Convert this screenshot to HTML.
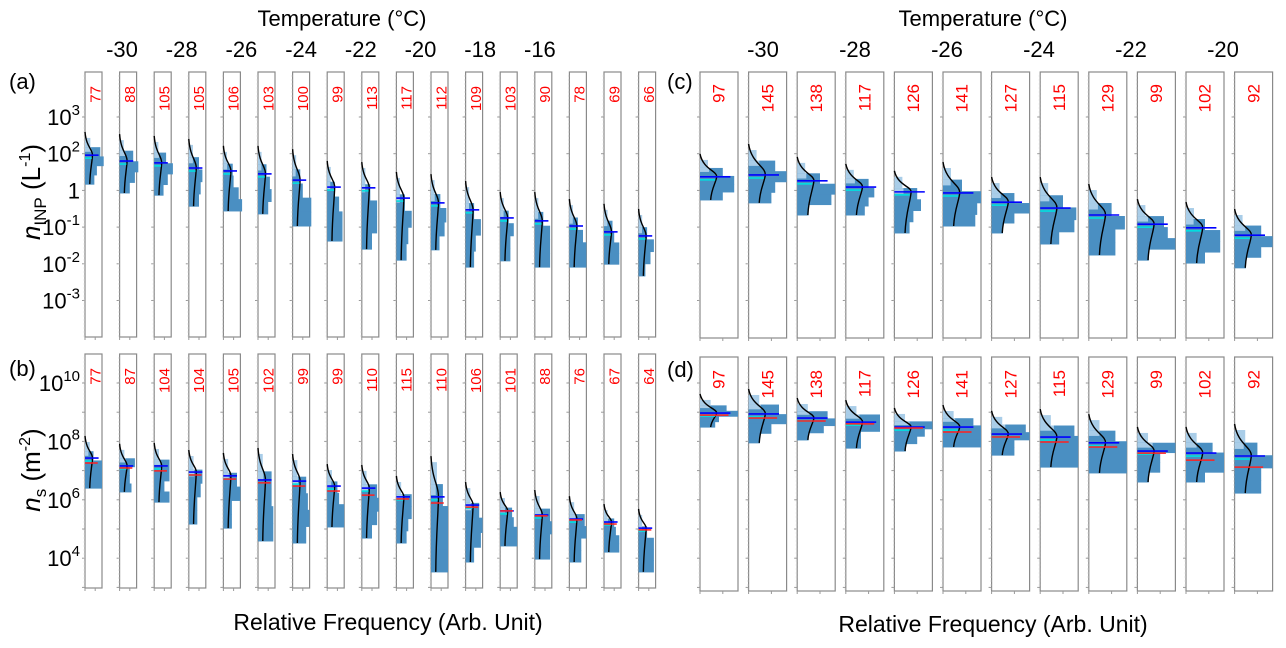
<!DOCTYPE html>
<html><head><meta charset="utf-8">
<style>
html,body{margin:0;padding:0;background:#fff;}
svg{display:block;font-family:"Liberation Sans",sans-serif;}
</style></head>
<body>
<svg id="fig" width="1286" height="648" viewBox="0 0 1286 648" xmlns="http://www.w3.org/2000/svg"></svg>
<script>
// ---------- data (exponents) ----------
const countsA=[77,88,105,105,106,103,100,99,113,117,112,109,103,90,78,69,66];
const topA=[2.43,2.37,2.32,2.24,2.05,2.05,1.96,1.64,1.61,1.34,1.28,1.09,0.79,0.79,0.60,0.47,0.33];
const medA=[1.96,1.80,1.75,1.61,1.53,1.45,1.28,1.09,1.07,0.79,0.66,0.47,0.25,0.17,0.03,-0.13,-0.24];
const botA=[1.17,0.93,0.87,0.57,0.44,0.36,0.03,-0.38,-0.60,-0.90,-0.62,-1.09,-0.92,-1.09,-1.09,-1.01,-1.33];
const binsA=[[0.45,0.9,1.1,0.7,0.55],[0.35,0.8,1.1,0.9,0.6],[0.35,0.7,1.1,0.8,0.55],[0.35,0.6,0.8,0.7,0.6],[0.3,0.55,0.6,0.9,1.1],[0.3,0.5,0.7,0.8,0.6],[0.3,0.45,0.6,1.1,1.1],[0.3,0.45,0.7,0.9,0.9],[0.3,0.5,0.9,0.9,0.6],[0.3,0.5,0.9,0.7,0.6],[0.3,0.55,0.9,0.8,0.5],[0.3,0.5,0.9,0.6,0.5],[0.3,0.5,0.8,0.6,0.6],[0.3,0.5,0.9,0.9,0.9],[0.3,0.5,0.8,1.0,1.0],[0.3,0.5,0.6,0.9,0.9],[0.3,0.5,0.9,0.7,0.4]];

const countsB=[77,87,104,104,105,102,99,99,110,115,110,106,101,88,76,67,64];
const topB=[7.98,7.71,7.74,7.50,7.40,7.57,7.36,7.02,6.99,6.61,7.29,6.40,6.06,6.13,5.92,5.65,5.48];
const medB=[7.43,7.16,7.16,6.95,6.82,6.68,6.64,6.47,6.40,6.10,6.10,5.82,5.62,5.48,5.34,5.24,5.03];
const meanB=[7.26,7.09,6.99,6.85,6.71,6.58,6.47,6.30,6.16,6.03,5.89,5.75,5.62,5.45,5.31,5.17,4.97];
const botB=[6.40,6.27,5.92,5.17,5.03,4.59,4.52,5.07,4.69,4.52,3.53,3.87,4.42,3.97,3.87,4.21,3.53];
const binsB=[[0.4,0.5,1.0,1.0,1.0],[0.4,0.9,0.6,0.6,0.7],[0.4,0.9,0.9,0.6,0.9],[0.4,0.8,0.7,0.5,0.5],[0.4,0.8,1.0,0.5,0.5],[0.4,0.8,0.8,0.9,0.9],[0.4,0.8,0.9,1.0,0.8],[0.4,0.6,0.7,1.0,1.0],[0.4,0.9,1.0,0.9,0.6],[0.4,0.9,0.9,0.7,0.6],[0.5,0.7,1.0,1.0,1.0],[0.4,0.8,1.0,0.9,0.5],[0.4,0.7,0.8,1.0,1.0],[0.4,0.9,1.0,0.9,0.9],[0.4,0.9,1.0,0.7,0.7],[0.3,0.6,0.7,0.9,0.9],[0.3,0.5,0.9,0.9,0.9]];

const countsC=[97,145,138,117,126,141,127,115,129,99,102,92];
const topC=[1.83,2.10,1.75,1.56,1.37,1.61,1.20,1.20,1.01,0.60,0.52,0.33];
const medC=[1.37,1.42,1.26,1.09,0.96,0.93,0.68,0.52,0.33,0.08,-0.02,-0.22];
const botC=[0.74,0.66,0.33,0.33,-0.16,0.03,-0.16,-0.46,-0.76,-0.90,-0.98,-1.11];
const binsC=[[0.3,0.6,0.9,0.9,0.6],[0.3,0.7,1.0,0.7,0.6],[0.3,0.6,1.0,0.9,0.3],[0.3,0.6,0.75,0.6,0.5],[0.3,0.6,0.7,0.5,0.4],[0.3,0.5,1.0,0.9,0.85],[0.3,0.6,1.0,0.6,0.3],[0.3,0.6,0.95,0.9,0.5],[0.3,0.6,0.95,0.7,0.7],[0.3,0.7,0.8,1.0,0.3],[0.3,0.5,0.9,0.9,0.5],[0.3,0.7,1.0,0.7,0.3]];

const countsD=[97,145,138,117,126,141,127,115,129,99,102,92];
const topD=[9.42,9.59,9.28,9.21,8.94,9.04,8.84,8.90,8.73,8.29,8.29,8.39];
const medD=[8.97,8.94,8.80,8.66,8.49,8.49,8.25,8.15,7.95,7.67,7.60,7.50];
const meanD=[8.90,8.80,8.70,8.60,8.46,8.32,8.15,7.98,7.81,7.60,7.36,7.12];
const botD=[8.49,7.95,8.05,7.77,7.67,7.81,7.53,7.12,6.92,6.61,6.61,6.23];
const binsD=[[0.4,0.7,1.0,0.5,0.4],[0.4,0.8,1.0,0.6,0.3],[0.4,0.8,1.0,0.7,0.3],[0.4,0.9,0.9,0.4,0.4],[0.4,1.0,0.8,0.6,0.3],[0.4,0.8,1.0,1.0,1.0],[0.4,0.9,1.0,0.6,0.6],[0.4,0.9,1.0,1.0,1.0],[0.4,0.7,1.0,1.0,1.0],[0.4,1.0,0.6,0.6,0.3],[0.4,0.7,1.0,1.0,0.5],[0.4,0.6,1.0,0.7,0.7]];

const tempTicksL=[-30,-28,-26,-24,-22,-20,-18,-16];
const tempTicksR=[-30,-28,-26,-24,-22,-20];
const tickExpAC=[3,2,1,0,-1,-2];
const tickLblAC=[["10","3"],["10","2"],["1",""],["10","-1"],["10","-2"],["10","-3"]];
const tickExpBD=[10,8,6,4];
const tickLblBD=[["10","10"],["10","8"],["10","6"],["10","4"]];

const NS="http://www.w3.org/2000/svg";
const svg=document.getElementById('fig');
function mk(tag,attrs,parent,text){const e=document.createElementNS(NS,tag);for(const k in attrs)e.setAttribute(k,attrs[k]);if(text!==undefined)e.textContent=text;(parent||svg).appendChild(e);return e;}
const yAC=e=>117+(3-e)*36.7;
const yBD=e=>383+(10-e)*29.2;
const xTL=t=>122+(t+30)/2*59.7;
const xTR=t=>763+(t+30)/2*92;

function drawRow(opt){
  const {x0,pitch,W,top,bot,ys,counts,tops,meds,means,bots,bins,name,txtTop,fs,majors,txtFrac}=opt;
  for(let i=0;i<counts.length;i++){
    const L=x0+i*pitch;
    const g=mk('g',{});
    
    
    const box=mk('rect',{x:L,y:top,width:W,height:bot-top,fill:'#fff',stroke:'#8a8a8a','stroke-width':1.2},g);
    
    
    majors.forEach(e=>{const y=ys(e);if(y>top&&y<bot)mk('line',{x1:L-3,x2:L,y1:y,y2:y,stroke:'#999','stroke-width':1},g);});
    for(let yy=top+4;yy<bot;yy+=4)mk('line',{x1:L-1.5,x2:L,y1:yy,y2:yy,stroke:'#ccc','stroke-width':0.6},g);
    mk('line',{x1:L,x2:L,y1:bot,y2:bot+3,stroke:'#999'},g);
    mk('line',{x1:L+W*0.6,x2:L+W*0.6,y1:bot,y2:bot+3,stroke:'#999'},g);
    const yt=ys(tops[i]),yb=ys(bots[i]);
    const n=bins[i].length,h=(yb-yt)/n;
    bins[i].forEach((w,k)=>{
      const ww=k===0?w*0.7:w;
      const r=mk('rect',{x:L,y:yt+k*h,width:ww*W,height:h+0.5,fill:k===0?'#a9cde8':'#4a8fc2'},g);
      
      
    });
    mk('rect',{x:L,y:yt+h,width:bins[i][1]*W*0.4,height:h*0.5,fill:'#a9cde8'},g);
    const m=ys(meds[i]);
    const d=`M${L},${yt-6} C${L+0.08*W},${yt+0.55*(m-yt)} ${L+0.45*W},${m-0.35*(m-yt)} ${L+0.44*W},${m} C${L+0.42*W},${m+0.25*(yb-m)} ${L+0.3*W},${yb-0.5*(yb-m)} ${L+0.28*W},${yb}`;
    const c=mk('path',{d:d,fill:'none',stroke:'#000','stroke-width':1.4},g);
    
    
    mk('line',{x1:L,x2:L+W*0.4,y1:m+3,y2:m+3,stroke:'#00e0e0','stroke-width':1.6},g);
    const bl=mk('line',{x1:L,x2:L+W*0.8,y1:m,y2:m,stroke:'#0000ff','stroke-width':1.6},g);
    
    
    if(means){
      const rl=mk('line',{x1:L,x2:L+W*0.75,y1:ys(means[i]),y2:ys(means[i]),stroke:'#ff2020','stroke-width':1.5},g);
      
      
    }
    const tx=L+W*txtFrac;
    const t=mk('text',{x:tx,y:txtTop,transform:`rotate(-90 ${tx} ${txtTop})`,'text-anchor':'end',fill:'#ff0000','font-size':fs},g,String(counts[i]));
    
    
  }
}

drawRow({x0:85,pitch:34.6,W:17,top:72,bot:337,ys:yAC,counts:countsA,tops:topA,meds:medA,bots:botA,bins:binsA,name:'a',txtTop:86,fs:15,majors:tickExpAC,txtFrac:0.9});
drawRow({x0:85,pitch:34.6,W:17,top:354,bot:588,ys:yBD,counts:countsB,tops:topB,meds:medB,means:meanB,bots:botB,bins:binsB,name:'b',txtTop:368,fs:15,majors:[11,10,9,8,7,6,5,4,3],txtFrac:0.9});
drawRow({x0:700,pitch:48.6,W:38,top:72,bot:338,ys:yAC,counts:countsC,tops:topC,meds:medC,bots:botC,bins:binsC,name:'c',txtTop:84,fs:17,majors:tickExpAC,txtFrac:0.65});
drawRow({x0:700,pitch:48.6,W:38,top:357,bot:591,ys:yBD,counts:countsD,tops:topD,meds:medD,means:meanD,bots:botD,bins:binsD,name:'d',txtTop:370,fs:17,majors:[11,10,9,8,7,6,5,4,3],txtFrac:0.65});

function yLabels(exps,lbls,ys,name){
  exps.forEach((e,i)=>{
    const y=ys(e)+8;
    const t=mk('text',{x:80,y:y,'text-anchor':'end','font-size':22,fill:'#000'});
    
    
    mk('tspan',{},t,lbls[i][0]);
    if(lbls[i][1])mk('tspan',{'font-size':15,dy:-10},t,lbls[i][1]);
  });
}
yLabels(tickExpAC,tickLblAC,yAC,'ninp');
yLabels(tickExpBD,tickLblBD,yBD,'ns');

tempTicksL.forEach(tp=>{const t=mk('text',{x:xTL(tp),y:57,'text-anchor':'middle','font-size':22},svg,String(tp));});
tempTicksR.forEach(tp=>{const t=mk('text',{x:xTR(tp),y:57,'text-anchor':'middle','font-size':22},svg,String(tp));});

(function(){
const g=document.createElementNS(NS,'g');
g.innerHTML=`
<text x="342" y="26" text-anchor="middle" font-size="22">Temperature (°C)</text>
<text x="983" y="26" text-anchor="middle" font-size="22">Temperature (°C)</text>
<text x="9" y="89" font-size="22">(a)</text>
<text x="9" y="376" font-size="22">(b)</text>
<text x="667" y="89" font-size="22">(c)</text>
<text x="667" y="377" font-size="22">(d)</text>
<text transform="rotate(-90 40 192)" x="40" y="192" text-anchor="middle" font-size="26"><tspan font-style="italic">n</tspan><tspan font-size="17" dy="6">INP</tspan><tspan dy="-6"> (L</tspan><tspan font-size="16" dy="-10">-1</tspan><tspan dy="10">)</tspan></text>
<text transform="rotate(-90 40 470)" x="40" y="470" text-anchor="middle" font-size="26"><tspan font-style="italic">n</tspan><tspan font-size="17" dy="6">s</tspan><tspan dy="-6"> (m</tspan><tspan font-size="16" dy="-10">-2</tspan><tspan dy="10">)</tspan></text>
<text x="388" y="630" text-anchor="middle" font-size="23">Relative Frequency (Arb. Unit)</text>
<text x="993" y="632" text-anchor="middle" font-size="23">Relative Frequency (Arb. Unit)</text>`;
svg.appendChild(g);
})();
</script>
</body></html>
